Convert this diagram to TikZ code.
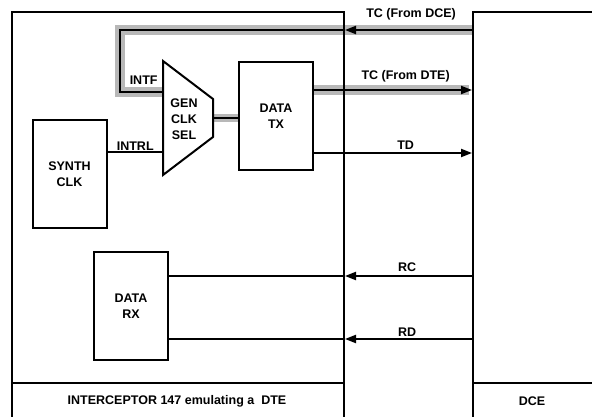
\documentclass[tikz,border=0pt]{standalone}
\usepackage{fontspec}
\setmainfont{Liberation Sans}
\usetikzlibrary{arrows.meta,calc,backgrounds}

\begin{document}
\begin{tikzpicture}[
  x=1pt, y=-1pt,
  font=\bfseries\fontsize{12.5}{16}\selectfont,
  >={Triangle[length=11pt,width=8pt]},
  unitbox/.style={
    draw, line width=2pt, anchor=north west, inner sep=0pt
  },
  blockbox/.style={
    draw, line width=2pt, align=center, inner sep=0pt,
    minimum width=74pt, minimum height=108pt
  },
  sig/.style={line width=2pt},
  arr/.style={->, line width=2pt},
  clkband/.style={line width=10pt, draw=black!28},
  siglbl/.style={inner sep=1pt}
]
\useasboundingbox (0,0) rectangle (592,417);
\clip (0,0) rectangle (592,417);

% =============================================================
% coordinates for the signal rows
% =============================================================
\coordinate (tcdce) at (0,30);
\coordinate (tcdte) at (0,90);
\coordinate (tdrow) at (0,153);
\coordinate (rcrow) at (0,276);
\coordinate (rdrow) at (0,339);
\coordinate (divy)  at (0,383);
\coordinate (loopx) at (120,0);

% mux corners
\coordinate (muxnw) at (163,61);
\coordinate (muxne) at (213,99);
\coordinate (muxse) at (213,137);
\coordinate (muxsw) at (163,175);
\coordinate (intf)   at (163,92);
\coordinate (intrl)  at (163,152);
\coordinate (muxout) at (213,118);

% =============================================================
% units and blocks
% =============================================================
\node[unitbox, minimum width=332pt, minimum height=440pt] (dte) at (11,11) {};
\node[unitbox, minimum width=150pt, minimum height=440pt] (dce) at (472,11) {};

\draw[sig] (dte.west |- divy) -- (dte.east |- divy);
\draw[sig] (dce.west |- divy) -- (dce.east |- divy);
\node (dtelbl) at (177,401) {INTERCEPTOR 147 emulating a\ \ DTE};
\node (dcelbl) at (532,401) {DCE};

\node[blockbox] (synth)  at (69.5,174) {SYNTH\\CLK};
\node[blockbox] (datatx) at (276,116)  {DATA\\TX};
\node[blockbox] (datarx) at (131,306)  {DATA\\RX};

% mux
\draw[sig, fill=white] (muxnw) -- (muxne) -- (muxse) -- (muxsw) -- cycle;
\node[align=center] (mux) at (184,119) {GEN\\CLK\\SEL};

% gray clock bands (behind everything)
\begin{scope}[on background layer]
\draw[clkband, shift={(0.5pt,-1pt)}]
   (dce.west |- tcdce) -| (loopx |- intf) -- (intf);
\draw[clkband, line width=8pt] (muxout) -- (muxout -| datatx.west);
\draw[clkband, shift={(0pt,-1.5pt)}]
   (datatx.east |- tcdte) -- ($(dce.west |- tcdte)+(-3,0)$);
\end{scope}

% =============================================================
% connectors
% =============================================================

% TC from DCE, looped back into the mux
\draw[arr] (dce.west |- tcdce) --
   node[siglbl, above=8pt, pos=0.48] {TC (From DCE)} (dte.east |- tcdce);
\draw[sig] (dte.east |- tcdce) -| (loopx |- intf) --
   node[siglbl, above=5pt, pos=0.55] {INTF} (intf);

% internal clock
\draw[sig] (synth.east |- intrl) --
   node[inner sep=0pt, above] {INTRL} (intrl);

% mux -> data tx
\draw[sig] (muxout) -- (muxout -| datatx.west);

% data tx -> DCE
\draw[arr] (datatx.east |- tcdte) --
   node[siglbl, above=6pt, pos=0.58] {TC (From DTE)} (dce.west |- tcdte);
\draw[arr] (datatx.east |- tdrow) --
   node[siglbl, above=1.5pt, pos=0.58] {TD} (dce.west |- tdrow);

% DCE -> data rx
\draw[sig] (dte.east |- rcrow) -- (datarx.east |- rcrow);
\draw[arr] (dce.west |- rcrow) --
   node[siglbl, above=2pt, pos=0.51] {RC} (dte.east |- rcrow);
\draw[sig] (dte.east |- rdrow) -- (datarx.east |- rdrow);
\draw[arr] (dce.west |- rdrow) --
   node[siglbl, above=1pt, pos=0.51] {RD} (dte.east |- rdrow);

\end{tikzpicture}
\end{document}
